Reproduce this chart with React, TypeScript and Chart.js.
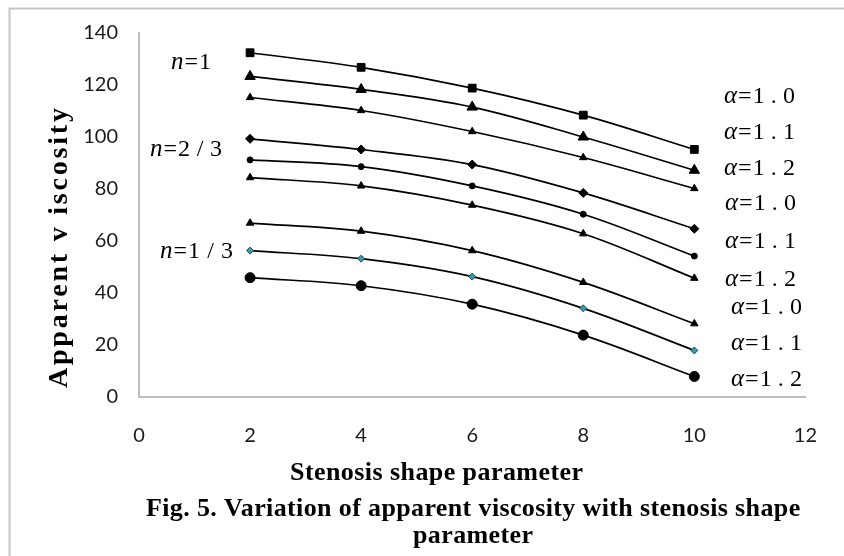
import React, { useEffect, useRef } from 'react';
import { Chart, registerables } from 'chart.js';

Chart.register(...registerables);

// ---- data ----
const shapeParam = [2, 4, 6, 8, 10];
const xTickValues = [0, 2, 4, 6, 8, 10, 12];
const yTickValues = [0, 20, 40, 60, 80, 100, 120, 140];

const n1_a10 = [132.4, 126.8, 118.8, 108.4, 95.2];
const n1_a11 = [123.3, 118.3, 111.5, 100.0, 87.2];
const n1_a12 = [115.2, 110.2, 102.1, 92.1, 80.2];
const n23_a10 = [99.3, 95.2, 89.4, 78.5, 64.7];
const n23_a11 = [91.2, 88.6, 81.2, 70.3, 54.2];
const n23_a12 = [84.4, 81.2, 73.8, 62.8, 45.7];
const n13_a10 = [66.9, 63.8, 56.3, 44.1, 28.2];
const n13_a11 = [56.3, 53.2, 46.3, 34.1, 17.9];
const n13_a12 = [45.9, 42.8, 35.7, 23.8, 7.9];

const nLabels = ['1', '2/3', '1/3'];
const alphaLabels = ['1.0', '1.1', '1.2', '1.0', '1.1', '1.2', '1.0', '1.1', '1.2'];

const xTitle = 'Stenosis shape parameter';
const yTitle = 'Apparent v iscosity';
const caption1 = 'Fig. 5. Variation of apparent viscosity with stenosis shape';
const caption2 = 'parameter';

const seriesDefs = [
  { label: 'n=1, α=1.0', data: n1_a10, style: 'rect', r: 5.5, fill: '#000' },
  { label: 'n=1, α=1.1', data: n1_a11, style: 'triangle', r: 6, fill: '#000' },
  { label: 'n=1, α=1.2', data: n1_a12, style: 'triangle', r: 4.3, fill: '#000' },
  { label: 'n=2/3, α=1.0', data: n23_a10, style: 'rectRot', r: 4.5, fill: '#000' },
  { label: 'n=2/3, α=1.1', data: n23_a11, style: 'circle', r: 3, fill: '#000' },
  { label: 'n=2/3, α=1.2', data: n23_a12, style: 'triangle', r: 4.3, fill: '#000' },
  { label: 'n=1/3, α=1.0', data: n13_a10, style: 'triangle', r: 4.3, fill: '#000' },
  { label: 'n=1/3, α=1.1', data: n13_a11, style: 'rectRot', r: 3.5, fill: '#3d9aa8' },
  { label: 'n=1/3, α=1.2', data: n13_a12, style: 'circle', r: 5, fill: '#000' },
];

function fitText(ctx: CanvasRenderingContext2D, text: string, x: number, y: number, target: number) {
  ctx.letterSpacing = '0px';
  const w = ctx.measureText(text).width;
  const sp = (target - w) / Math.max(1, text.length - 1);
  ctx.letterSpacing = sp.toFixed(2) + 'px';
  ctx.textAlign = 'left';
  ctx.fillText(text, x, y);
  ctx.letterSpacing = '0px';
}

function drawEq(
  ctx: CanvasRenderingContext2D,
  x: number,
  y: number,
  sym: string,
  val: string,
  target: number
) {
  ctx.textAlign = 'left';
  ctx.textBaseline = 'alphabetic';
  ctx.fillStyle = '#000';
  ctx.letterSpacing = '0px';
  ctx.font = 'italic 25px "Liberation Serif"';
  ctx.fillText(sym, x, y);
  const ws = ctx.measureText(sym).width;
  ctx.font = '24px "Liberation Serif"';
  const eqX = x + ws + 1;
  ctx.fillText('=', eqX, y);
  const we = ctx.measureText('=').width;
  const vx = eqX + we + 1;
  const vw = ctx.measureText(val).width;
  const remaining = x + target - vx;
  const sp = val.length > 1 ? (remaining - vw) / (val.length - 1) : 0;
  ctx.letterSpacing = Math.max(0, sp).toFixed(2) + 'px';
  ctx.fillText(val, vx, y);
  ctx.letterSpacing = '0px';
}

const textPlugin = {
  id: 'textPlugin',
  beforeDraw(chart: any) {
    const ctx = chart.ctx as CanvasRenderingContext2D;
    ctx.save();
    ctx.fillStyle = '#fff';
    ctx.fillRect(0, 0, chart.width, chart.height);
    ctx.strokeStyle = '#c4c4c4';
    ctx.lineWidth = 2;
    ctx.beginPath();
    ctx.moveTo(9.5, chart.height);
    ctx.lineTo(9.5, 8.5);
    ctx.lineTo(chart.width, 8.5);
    ctx.stroke();
    ctx.restore();
  },
  afterDraw(chart: any) {
    const ctx = chart.ctx as CanvasRenderingContext2D;
    ctx.save();
    // n labels
    const nPos = [
      [171, 69, 36],
      [150, 156, 72],
      [160, 258, 73],
    ];
    nLabels.forEach((v, i) => {
      const [px, py, w] = nPos[i];
      drawEq(ctx, px, py, 'n', v, w);
    });
    // alpha labels
    const aPos = [
      [724, 103], [724, 139], [724, 175],
      [725, 210], [725, 248], [725, 286],
      [731, 314], [731, 350], [731, 386],
    ];
    alphaLabels.forEach((v, i) => {
      const [px, py] = aPos[i];
      drawEq(ctx, px, py, 'α', v, 71);
    });

    ctx.fillStyle = '#000';
    ctx.textBaseline = 'alphabetic';
    // x title
    ctx.font = 'bold 26px "Liberation Serif"';
    fitText(ctx, xTitle, 290, 480, 293);
    // caption
    ctx.font = 'bold 26px "Liberation Serif"';
    fitText(ctx, caption1, 146, 516, 654);
    fitText(ctx, caption2, 413, 543, 120);
    // y title
    ctx.save();
    ctx.translate(67, 388);
    ctx.rotate(-Math.PI / 2);
    ctx.font = 'bold 28px "Liberation Serif"';
    fitText(ctx, yTitle, 0, 0, 280);
    ctx.restore();
    ctx.restore();
  },
};

export default function App() {
  const ref = useRef<HTMLCanvasElement | null>(null);

  useEffect(() => {
    if (!ref.current) return;
    const chart = new Chart(ref.current, {
      type: 'line',
      data: {
        datasets: seriesDefs.map((s) => ({
          label: s.label,
          data: s.data.map((v, i) => ({ x: shapeParam[i], y: v })),
          borderColor: '#000',
          borderWidth: 1.7,
          backgroundColor: s.fill,
          pointStyle: s.style as any,
          pointRadius: s.r,
          pointBackgroundColor: s.fill,
          pointBorderColor: s.fill === '#000' ? '#000' : '#1d4a52',
          pointBorderWidth: 1,
          tension: 0.35,
          fill: false,
        })),
      },
      options: {
        animation: false,
        responsive: false,
        devicePixelRatio: 1,
        layout: { padding: { left: 0, top: 23, right: 23, bottom: 0 } },
        plugins: {
          legend: { display: false },
          tooltip: { enabled: false },
          title: { display: false },
        },
        scales: {
          x: {
            type: 'linear',
            min: 0,
            max: 12,
            afterBuildTicks: (scale: any) => {
              scale.ticks = xTickValues.map((v) => ({ value: v }));
            },
            afterFit: (scale: any) => {
              scale.height = 159;
            },
            grid: { display: false, drawTicks: false },
            border: { display: true, color: '#bfbfbf', width: 2 },
            ticks: {
              padding: 27,
              color: '#1a1a1a',
              font: { family: 'Lato', size: 20 },
              maxRotation: 0,
              autoSkip: false,
            },
          },
          y: {
            type: 'linear',
            min: 0,
            max: 140,
            afterBuildTicks: (scale: any) => {
              scale.ticks = yTickValues.map((v) => ({ value: v }));
            },
            afterFit: (scale: any) => {
              scale.width = 139;
            },
            grid: { display: false, drawTicks: false },
            border: { display: true, color: '#bfbfbf', width: 2 },
            ticks: {
              padding: 21,
              color: '#1a1a1a',
              font: { family: 'Lato', size: 20 },
              autoSkip: false,
            },
          },
        },
      },
      plugins: [textPlugin],
    });
    return () => chart.destroy();
  }, []);

  return (
    <div style={{ position: 'fixed', left: 0, top: 0, width: 844, height: 556, background: '#fff' }}>
      <canvas ref={ref} width={844} height={556} style={{ display: 'block', width: 844, height: 556 }} />
    </div>
  );
}
